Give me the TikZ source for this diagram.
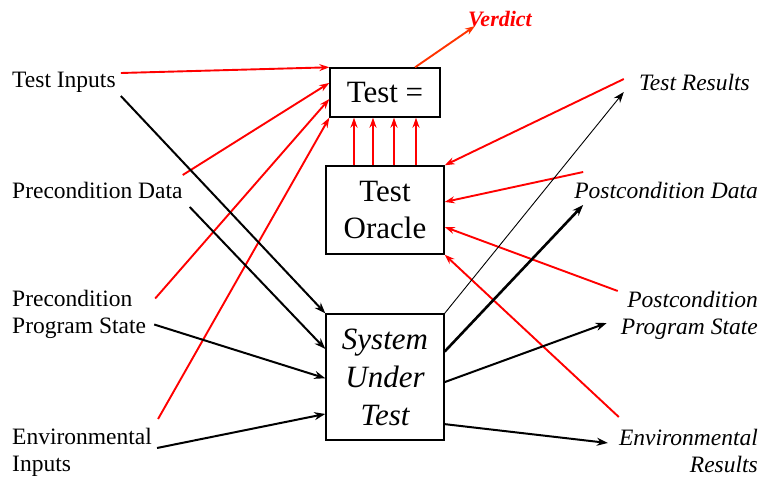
\documentclass[tikz,border=0pt]{standalone}
\usepackage{fontspec}
\setmainfont{Liberation Serif}
\usetikzlibrary{arrows.meta,calc}
\definecolor{verdictred}{RGB}{255,51,0}

\begin{document}
\begin{tikzpicture}[x=1pt,y=-1pt,
  lbl/.style={inner sep=0pt,font=\fontsize{23.5}{27}\selectfont},
  rlbl/.style={inner sep=0pt,font=\fontsize{23.5}{27}\selectfont\itshape},
  box/.style={draw,line width=1.4pt,inner sep=0pt,align=center,font=\fontsize{31}{37.5}\selectfont},
  redarr/.style={red,line width=1.9pt,-{Stealth[length=10pt,width=7pt]}},
  blkarr/.style={black,line width=2pt,-{Stealth[length=11pt,width=8pt]}}]
\useasboundingbox (0,0) rectangle (761,478);
\node[box,minimum width=110pt,minimum height=49pt] (test) at (385,92.5) {Test =};
\node[box,minimum width=118pt,minimum height=88pt] (oracle) at (385,210) {Test\\Oracle};
\node[box,minimum width=118pt,minimum height=126pt,font=\fontsize{31}{38}\selectfont\itshape] (sut) at (385,377) {System\\Under\\Test};
\node[red,inner sep=0pt,font=\fontsize{22}{26}\selectfont\bfseries\itshape] (verdict) at (500,19) {Verdict};
\node[lbl,anchor=west] (tin) at (12,82) {Test Inputs};
\node[lbl,anchor=west] (pdat) at (12,190) {Precondition Data};
\node[lbl,anchor=west,align=left] (pstate) at (12,314.5) {Precondition\\Program State};
\node[lbl,anchor=west,align=left] (envin) at (12,452) {Environmental\\Inputs};
\node[rlbl,anchor=east] (tres) at (750,82) {Test Results};
\node[rlbl,anchor=east] (qdat) at (758,190) {Postcondition Data};
\node[rlbl,anchor=east,align=right] (qstate) at (758,315) {Postcondition\\Program State};
\node[rlbl,anchor=east,align=right] (envres) at (758,451) {Environmental\\Results};
\draw[redarr] ($(tin.east)+(5,-9)$) -- (test.north west);
\draw[redarr] ($(pdat.east)+(0,-15)$) -- ($(test.north west)!0.31!(test.south west)$);
\draw[redarr] ($(pstate.east)+(9,-16)$) -- ($(test.north west)!0.63!(test.south west)$);
\draw[redarr] ($(envin.east)+(6,-33)$) -- (test.south west);
\draw[redarr,verdictred] ($(test.north west)!0.77!(test.north east)$) -- ($(verdict.south west)+(7,-1)$);
\foreach \x in {354,373,394,416} \draw[redarr] (oracle.north -| \x,0) -- (test.south -| \x,0);
\draw[redarr] ($(tres.west)+(-15,-3)$) -- (oracle.north east);
\draw[redarr] ($(qdat.west)+(9,-18)$) -- ($(oracle.north east)!0.41!(oracle.south east)$);
\draw[redarr] ($(qstate.west)+(-3,-24)$) -- ($(oracle.north east)!0.69!(oracle.south east)$);
\draw[redarr] ($(envres.west)+(0,-34)$) -- (oracle.south east);
\draw[blkarr] ($(tin.east)+(5,14)$) -- (sut.north west);
\draw[blkarr] ($(pdat.east)+(7,17)$) -- ($(sut.north west)!0.28!(sut.south west)$);
\draw[blkarr] ($(pstate.east)+(8,10)$) -- ($(sut.north west)!0.51!(sut.south west)$);
\draw[blkarr] ($(envin.east)+(5,-4)$) -- ($(sut.north west)!0.79!(sut.south west)$);
\draw[blkarr,line width=0.9pt] (sut.north east) -- ($(tres.west)+(-15,10)$);
\draw[blkarr,line width=2.6pt] ($(sut.north east)!0.30!(sut.south east)$) -- ($(qdat.west)+(9,15)$);
\draw[blkarr] ($(sut.north east)!0.54!(sut.south east)$) -- ($(qstate.west)+(-14,8)$);
\draw[blkarr] ($(sut.north east)!0.87!(sut.south east)$) -- ($(envres.west)+(-11,-8)$);
\end{tikzpicture}
\end{document}
